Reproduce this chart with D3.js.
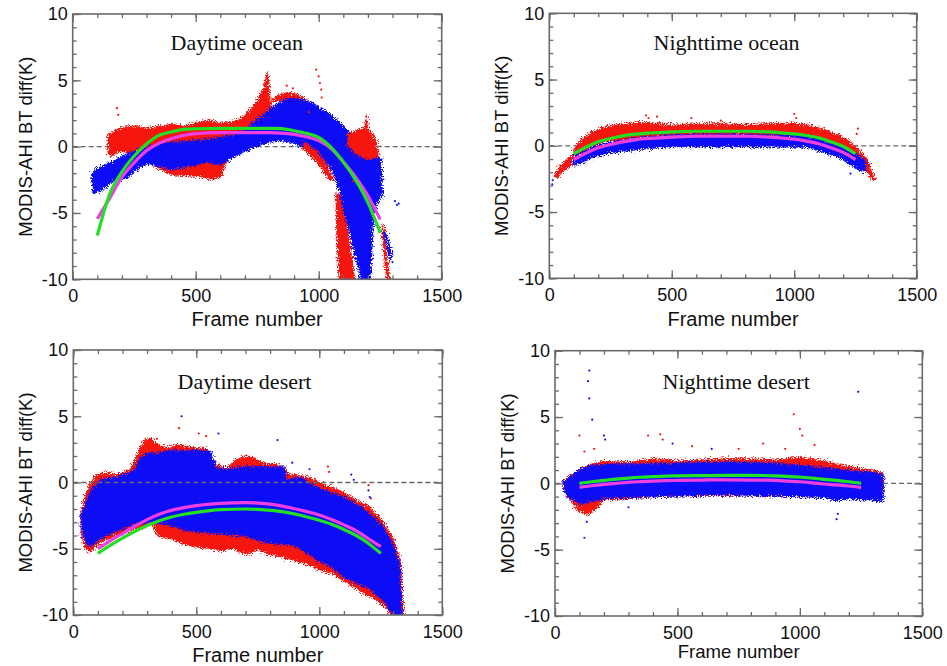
<!DOCTYPE html>
<html>
<head>
<meta charset="utf-8">
<script src="https://cdn.jsdelivr.net/npm/d3@7"></script>
<style>body{margin:0;background:#fff}</style>
</head>
<body>
<svg id="chart" width="947" height="666"></svg>
<script>
// frames at which the fitted curves were read
let fitFrames = [100,150,200,250,300,350,400,450,500,600,700,800,850,900,950,1000,1050,1100,1150,1200,1250];

// ---- daytime ocean ----
let dayOceanGreen   = [-6.7,-3.6,-1.9,-0.7,0.2,0.85,1.1,1.3,1.35,1.38,1.38,1.38,1.36,1.2,1.0,0.7,-0.05,-1.15,-2.5,-4.2,-6.5];
let dayOceanMagenta = [-5.45,-3.9,-2.3,-1.2,-0.3,0.25,0.6,0.85,0.98,1.05,1.05,1.05,1.02,0.92,0.75,0.45,-0.15,-1.15,-2.3,-3.7,-5.5];
let dayOceanRed = [
  [[140,0.9],[165,1.2],[200,1.5],[260,1.6],[300,1.4],[350,1.6],[400,1.7],[450,1.6],[500,1.8],[550,2.0],[600,1.8],[650,1.9],[690,2.2],[720,2.8],[750,3.5],[775,4.5],[790,5.7],[798,5.2],[805,3.5],[815,2.0],[790,0.8],[700,0.3],[650,-0.2],[625,-1.2],[605,-2.3],[570,-2.5],[520,-2.3],[460,-2.2],[420,-2.2],[380,-2.0],[340,-1.6],[310,-0.6],[280,-0.4],[230,-0.5],[190,-0.4],[160,-0.7],[142,-0.6]],
  [[800,3.3],[830,3.9],[870,4.1],[910,4.0],[945,3.6],[960,3.2],[900,3.4],[850,3.4]],
  [[1068,-3.4],[1098,-3.7],[1125,-6.8],[1152,-10.5],[1082,-10.5],[1072,-7.0]],
  [[1254,-5.8],[1266,-5.9],[1294,-10.5],[1276,-10.5]]
];
let dayOceanBlue = [
  [[75,-2.0],[100,-1.6],[150,-1.2],[220,-0.5],[290,-0.1],[350,0.3],[450,0.4],[550,0.6],[650,0.9],[700,1.3],[730,1.8],[780,2.5],[820,3.2],[860,3.6],[900,3.7],[950,3.5],[980,3.3],[1020,2.8],[1060,2.3],[1100,1.6],[1140,0.8],[1180,0.1],[1220,-0.3],[1255,-0.9],[1262,-3.6],[1240,-4.3],[1226,-5.2],[1218,-8.0],[1212,-10.5],[1172,-10.5],[1160,-9.2],[1140,-7.8],[1120,-6.3],[1100,-4.8],[1080,-3.2],[1060,-2.2],[1040,-1.5],[1000,-0.9],[950,-0.2],[900,0.2],[850,0.4],[800,0.3],[750,0.0],[700,-0.4],[660,-0.8],[600,-1.4],[550,-1.2],[500,-1.4],[450,-1.6],[400,-1.8],[350,-1.5],[300,-1.3],[260,-1.8],[220,-2.4],[180,-2.6],[150,-2.9],[110,-3.4],[80,-3.6]],
  [[1262,-6.3],[1280,-6.6],[1300,-8.2],[1292,-8.6],[1270,-7.2]]
];
let dayOceanRedTop = [
  [[1115,1.0],[1150,1.2],[1185,1.5],[1195,2.5],[1205,1.3],[1235,0.6],[1245,-0.8],[1200,-1.0],[1150,-0.6],[1115,0.1]],
  [[940,0.4],[990,-0.3],[1030,-1.2],[1062,-2.4],[1045,-2.6],[1000,-1.4],[960,-0.6],[935,-0.2]]
];
let dayOceanRedDots  = [[180,2.9],[185,2.4],[990,5.8],[1000,5.3],[1005,4.8],[1010,4.3],[1012,3.7],[870,4.6],[895,4.4],[960,2.6],[1130,-1.8],[1140,-2.6]];
let dayOceanBlueDots = [[1310,-4.1],[1318,-4.4],[1325,-4.3],[1285,-7.9],[1300,-8.7]];

// ---- nighttime ocean ----
let nightOceanGreen   = [-0.6,-0.1,0.3,0.55,0.75,0.88,0.95,1.0,1.05,1.1,1.1,1.1,1.08,1.05,0.98,0.9,0.78,0.6,0.3,-0.05,-0.6];
let nightOceanMagenta = [-1.05,-0.55,-0.15,0.1,0.3,0.45,0.55,0.6,0.65,0.72,0.72,0.72,0.7,0.65,0.58,0.5,0.35,0.15,-0.15,-0.5,-1.05];
let nightOceanRed = [
  [[98,-0.2],[130,0.5],[166,1.0],[234,1.5],[300,1.7],[370,1.8],[420,1.75],[506,1.6],[600,1.7],[700,1.7],[800,1.65],[900,1.7],[1000,1.75],[1051,1.6],[1119,1.3],[1187,0.8],[1230,0.3],[1255,-0.1],[1296,-0.9],[1323,-2.1],[1335,-2.6],[1320,-2.7],[1296,-2.0],[1255,-1.2],[1190,-0.2],[1050,0.7],[500,0.7],[234,0.3],[166,-0.2],[98,-1.0]],
  [[16,-2.3],[40,-1.6],[70,-1.0],[98,-0.6],[98,-1.4],[60,-1.9],[30,-2.5]]
];
let nightOceanBlue = [
  [[98,-0.8],[166,-0.15],[234,0.25],[370,0.65],[500,0.85],[800,0.9],[1050,0.8],[1120,0.45],[1190,-0.05],[1255,-0.65],[1290,-1.0],[1295,-2.0],[1255,-1.8],[1190,-1.0],[1120,-0.5],[1050,-0.15],[800,-0.1],[500,-0.1],[370,-0.3],[234,-0.6],[166,-1.0],[98,-1.6]]
];
let nightOceanRedTop = [];
let nightOceanRedDots  = [[395,2.3],[405,2.1],[440,2.2],[580,2.1],[1000,2.4],[1008,2.1],[1260,1.3],[1255,0.9],[700,1.9]];
let nightOceanBlueDots = [[12,-2.9],[14,-2.6],[1230,-2.1]];

// ---- daytime desert ----
let dayDesertGreen   = [-5.35,-4.75,-4.2,-3.7,-3.25,-2.88,-2.6,-2.4,-2.25,-2.05,-2.0,-2.1,-2.2,-2.38,-2.6,-2.85,-3.15,-3.55,-4.0,-4.6,-5.35];
let dayDesertMagenta = [-5.0,-4.4,-3.85,-3.3,-2.8,-2.4,-2.1,-1.9,-1.75,-1.58,-1.52,-1.63,-1.78,-1.98,-2.2,-2.45,-2.8,-3.2,-3.65,-4.25,-4.84];
let dayDesertRed = [
  [[30,-2.2],[50,-0.8],[68,0.0],[90,0.6],[130,0.8],[176,0.6],[230,1.0],[260,2.2],[285,3.2],[310,3.4],[340,3.0],[379,2.6],[420,2.9],[470,2.7],[540,2.6],[575,1.5],[620,1.0],[650,1.6],[690,2.0],[732,1.9],[780,1.5],[850,1.3],[880,0.6],[950,0.5],[1020,-0.1],[1100,-0.7],[1150,-1.3],[1200,-1.7],[1250,-2.7],[1300,-4.1],[1330,-5.8],[1345,-10.5],[1300,-10.5],[1280,-9.6],[1230,-8.9],[1180,-8.4],[1120,-7.7],[1050,-6.9],[1000,-6.6],[950,-6.2],[900,-5.9],[850,-5.7],[790,-5.4],[750,-5.1],[700,-5.5],[650,-5.0],[600,-5.2],[550,-5.0],[500,-4.9],[450,-4.7],[400,-4.3],[340,-4.1],[320,-3.0],[290,-3.4],[244,-3.6],[176,-4.0],[108,-4.6],[68,-5.3],[40,-4.8],[30,-3.5]]
];
let dayDesertBlue = [
  [[30,-2.5],[50,-1.5],[68,-0.6],[108,0.2],[176,0.45],[244,0.9],[270,1.8],[300,2.3],[340,2.2],[400,2.5],[450,2.4],[500,2.5],[560,2.4],[583,1.1],[650,1.1],[700,1.25],[800,1.2],[860,1.2],[867,0.2],[921,0.45],[989,-0.3],[1057,-0.8],[1125,-1.3],[1192,-2.1],[1260,-3.3],[1301,-4.6],[1328,-6.1],[1341,-10.5],[1320,-10.5],[1260,-9.0],[1200,-8.0],[1100,-7.2],[1050,-6.4],[1000,-6.0],[900,-4.8],[789,-4.6],[700,-4.1],[515,-3.8],[450,-3.6],[379,-3.2],[312,-3.0],[290,-3.1],[244,-3.2],[176,-3.7],[108,-4.3],[68,-4.9],[50,-4.5],[30,-3.5]]
];
let dayDesertRedTop = [];
let dayDesertRedDots  = [[430,4.1],[510,3.7],[540,3.5],[1035,1.2],[1040,0.8],[1200,-0.2],[1210,-1.2],[340,3.3]];
let dayDesertBlueDots = [[440,5.0],[590,3.7],[830,3.2],[1130,0.6],[1140,0.2],[1200,-0.6],[1205,-1.1],[890,1.5],[960,1.0]];

// ---- nighttime desert ----
let nightDesertGreen   = [0.0,0.12,0.22,0.32,0.4,0.46,0.5,0.54,0.56,0.58,0.6,0.6,0.59,0.57,0.53,0.47,0.4,0.3,0.22,0.12,0.0];
let nightDesertMagenta = [-0.3,-0.18,-0.08,0.0,0.08,0.13,0.17,0.2,0.22,0.25,0.26,0.25,0.24,0.22,0.17,0.12,0.04,-0.05,-0.12,-0.2,-0.32];
let nightDesertRed = [
  [[34,0.2],[60,0.6],[100,1.0],[150,1.5],[200,1.7],[300,1.6],[400,1.9],[500,1.7],[600,1.8],[700,1.9],[800,1.9],[900,1.8],[1000,2.0],[1100,1.7],[1200,1.3],[1300,1.0],[1340,0.8],[1342,-0.8],[1300,-1.0],[1200,-0.9],[1000,-0.9],[800,-0.9],[600,-0.9],[400,-1.0],[200,-1.3],[170,-2.0],[130,-2.4],[90,-2.0],[60,-1.2],[34,-0.6]]
];
let nightDesertBlue = [
  [[34,0.2],[60,0.5],[100,1.1],[150,1.4],[200,1.45],[300,1.5],[500,1.55],[700,1.65],[900,1.55],[1000,1.4],[1100,1.2],[1200,1.0],[1300,0.85],[1342,0.7],[1342,-1.4],[1300,-1.35],[1200,-1.2],[1150,-1.4],[1100,-1.1],[900,-1.0],[700,-0.9],[500,-1.0],[300,-1.1],[200,-1.2],[150,-1.4],[100,-1.6],[60,-1.2],[34,-0.6]]
];
let nightDesertRedTop = [];
let nightDesertRedDots  = [[100,3.6],[120,2.4],[160,2.6],[380,3.6],[430,3.7],[440,3.3],[560,2.8],[750,2.6],[850,3.0],[975,5.2],[1000,4.1],[1010,3.6],[1060,2.9],[940,2.6]];
let nightDesertBlueDots = [[140,8.5],[135,7.7],[140,6.4],[152,4.8],[200,3.6],[205,3.3],[480,3.0],[640,2.6],[1238,6.9],[120,-4.1],[130,-2.9],[1150,-2.7],[1155,-2.3],[300,-1.8]];

let xMajor = [0,500,1000,1500];
let yMajor = [-10,-5,0,5,10];

let redColor = "#f5120f";
let blueColor = "#1010f5";
let greenColor = "#22e024";
let magentaColor = "#f03ee2";
let frameColor = "#6a6a6a";

let panels = [
  {title:"Daytime ocean", left:72.7, top:14, w:369, h:265.3, titleAt:[667,7.3], xlabSize:20, xlabGap:47,
   red:dayOceanRed, blue:dayOceanBlue, redTop:dayOceanRedTop, redDots:dayOceanRedDots, blueDots:dayOceanBlueDots,
   green:dayOceanGreen, magenta:dayOceanMagenta, zeroOnTop:false},
  {title:"Nighttime ocean", left:549.3, top:13.3, w:367.4, h:265, titleAt:[724,7.23], xlabSize:20, xlabGap:48,
   red:nightOceanRed, blue:nightOceanBlue, redTop:nightOceanRedTop, redDots:nightOceanRedDots, blueDots:nightOceanBlueDots,
   green:nightOceanGreen, magenta:nightOceanMagenta, zeroOnTop:false},
  {title:"Daytime desert", left:73.3, top:350, w:369, h:265, titleAt:[696,7.06], xlabSize:20, xlabGap:47,
   red:dayDesertRed, blue:dayDesertBlue, redTop:dayDesertRedTop, redDots:dayDesertRedDots, blueDots:dayDesertBlueDots,
   green:dayDesertGreen, magenta:dayDesertMagenta, zeroOnTop:true},
  {title:"Nighttime desert", left:555, top:350.7, w:367.3, h:265.3, titleAt:[740,7.1], xlabSize:18.6, xlabGap:42,
   red:nightDesertRed, blue:nightDesertBlue, redTop:nightDesertRedTop, redDots:nightDesertRedDots, blueDots:nightDesertBlueDots,
   green:nightDesertGreen, magenta:nightDesertMagenta, zeroOnTop:false}
];

let svg = d3.select("#chart");
let defs = svg.append("defs");

function addRoughFilter(id, seed) {
  let f = defs.append("filter").attr("id", id)
    .attr("x", "-5%").attr("y", "-5%").attr("width", "110%").attr("height", "110%");
  f.append("feTurbulence").attr("type", "fractalNoise").attr("baseFrequency", 0.9)
    .attr("numOctaves", 2).attr("seed", seed).attr("result", "noise");
  f.append("feDisplacementMap").attr("in", "SourceGraphic").attr("in2", "noise")
    .attr("scale", 9).attr("xChannelSelector", "R").attr("yChannelSelector", "G");
}
addRoughFilter("roughRed", 3);
addRoughFilter("roughBlue", 11);

panels.forEach(function(p, i) { drawPanel(p, i); });

function drawPanel(p, idx) {
  let x = d3.scaleLinear().domain([0, 1500]).range([0, p.w]);
  let y = d3.scaleLinear().domain([-10, 10]).range([p.h, 0]);
  let g = svg.append("g").attr("transform", "translate(" + p.left + "," + p.top + ")");

  defs.append("clipPath").attr("id", "clip" + idx)
    .append("rect").attr("width", p.w).attr("height", p.h);

  let plot = g.append("g").attr("clip-path", "url(#clip" + idx + ")");

  let poly = d3.line()
    .x(function(d) { return x(d[0]); })
    .y(function(d) { return y(d[1]); })
    .curve(d3.curveLinearClosed);

  let fit = d3.line()
    .x(function(d, i) { return x(fitFrames[i]); })
    .y(function(d) { return y(d); })
    .curve(d3.curveMonotoneX);

  let zero = function(layer) {
    layer.append("line")
      .attr("x1", 0).attr("x2", p.w)
      .attr("y1", y(0)).attr("y2", y(0))
      .style("stroke", "#666")
      .style("stroke-width", 1.3)
      .style("stroke-dasharray", "5,3");
  };
  if (!p.zeroOnTop) zero(plot);

  // scatter clouds (envelopes) – red under blue
  plot.append("g").attr("filter", "url(#roughRed)")
    .selectAll("path").data(p.red).enter().append("path")
    .attr("d", poly).style("fill", redColor);

  plot.append("g").attr("filter", "url(#roughBlue)")
    .selectAll("path").data(p.blue).enter().append("path")
    .attr("d", poly).style("fill", blueColor);

  plot.append("g").attr("filter", "url(#roughRed)")
    .selectAll("path").data(p.redTop).enter().append("path")
    .attr("d", poly).style("fill", redColor);

  plot.selectAll(".rdot").data(p.redDots).enter().append("circle")
    .attr("class", "rdot")
    .attr("cx", function(d) { return x(d[0]); })
    .attr("cy", function(d) { return y(d[1]); })
    .attr("r", 1.1).style("fill", redColor);

  plot.selectAll(".bdot").data(p.blueDots).enter().append("circle")
    .attr("class", "bdot")
    .attr("cx", function(d) { return x(d[0]); })
    .attr("cy", function(d) { return y(d[1]); })
    .attr("r", 1.1).style("fill", blueColor);

  if (p.zeroOnTop) zero(plot);

  // fitted curves
  plot.append("path").datum(p.magenta).attr("d", fit)
    .style("fill", "none").style("stroke", magentaColor).style("stroke-width", 3.2);
  plot.append("path").datum(p.green).attr("d", fit)
    .style("fill", "none").style("stroke", greenColor).style("stroke-width", 3.2);

  // frame
  g.append("rect").attr("width", p.w).attr("height", p.h)
    .style("fill", "none").style("stroke", frameColor).style("stroke-width", 1.6);

  let styleAxis = function(a) {
    a.select(".domain").remove();
    a.selectAll("line").style("stroke", frameColor).style("stroke-width", 1.3);
    a.selectAll("text").style("font-family", "Liberation Sans, Arial, sans-serif")
      .style("font-size", "18px").style("fill", "#111");
  };
  let plain = function(d) { return String(d); };

  // minor ticks on all four sides, inside
  let xMinor = d3.range(0, 1501, 100);
  let yMinor = d3.range(-10, 10.01, 1);
  g.append("g").attr("transform", "translate(0," + p.h + ")")
    .call(d3.axisBottom(x).tickValues(xMinor).tickSize(-4).tickFormat("")).call(styleAxis);
  g.append("g")
    .call(d3.axisTop(x).tickValues(xMinor).tickSize(-4).tickFormat("")).call(styleAxis);
  g.append("g")
    .call(d3.axisLeft(y).tickValues(yMinor).tickSize(-4).tickFormat("")).call(styleAxis);
  g.append("g").attr("transform", "translate(" + p.w + ",0)")
    .call(d3.axisRight(y).tickValues(yMinor).tickSize(-4).tickFormat("")).call(styleAxis);

  // major ticks with labels
  g.append("g").attr("transform", "translate(0," + p.h + ")")
    .call(d3.axisBottom(x).tickValues(xMajor).tickSize(-8).tickPadding(10).tickFormat(plain))
    .call(styleAxis);
  g.append("g")
    .call(d3.axisTop(x).tickValues(xMajor).tickSize(-8).tickFormat("")).call(styleAxis);
  g.append("g")
    .call(d3.axisLeft(y).tickValues(yMajor).tickSize(-8).tickPadding(5).tickFormat(plain))
    .call(styleAxis);
  g.append("g").attr("transform", "translate(" + p.w + ",0)")
    .call(d3.axisRight(y).tickValues(yMajor).tickSize(-8).tickFormat("")).call(styleAxis);

  // panel title
  g.append("text")
    .attr("x", x(p.titleAt[0]))
    .attr("y", y(p.titleAt[1]))
    .text(p.title)
    .style("font-family", "Liberation Serif, Times New Roman, serif")
    .style("font-size", "22px")
    .style("text-anchor", "middle")
    .style("fill", "#111");

  // axis titles
  g.append("text")
    .attr("x", p.w / 2)
    .attr("y", p.h + p.xlabGap)
    .text("Frame number")
    .style("font-family", "Liberation Sans, Arial, sans-serif")
    .style("font-size", p.xlabSize + "px")
    .style("text-anchor", "middle")
    .style("fill", "#111");

  g.append("text")
    .attr("transform", "translate(-41," + (p.h / 2) + ") rotate(-90)")
    .text("MODIS-AHI BT diff(K)")
    .style("font-family", "Liberation Sans, Arial, sans-serif")
    .style("font-size", "18.5px")
    .style("text-anchor", "middle")
    .style("fill", "#111");
}
</script>
</body>
</html>
